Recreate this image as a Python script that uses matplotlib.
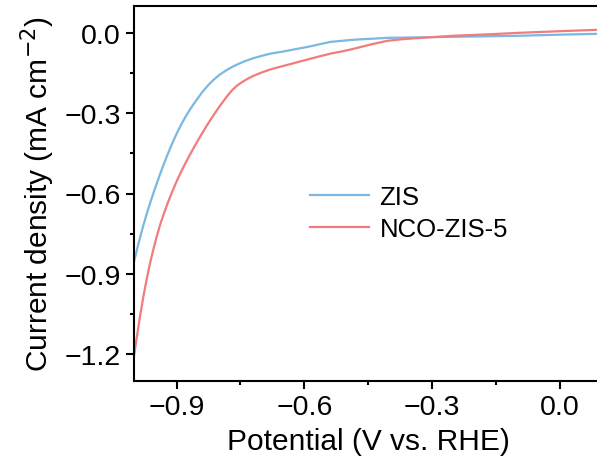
import matplotlib
matplotlib.use("Agg")
import matplotlib.pyplot as plt
from matplotlib.ticker import MultipleLocator

plt.rcParams['font.family'] = ['Liberation Sans', 'DejaVu Sans']

zis_x = [-1.0, -0.99, -0.98, -0.97, -0.96, -0.95, -0.94, -0.93, -0.92, -0.91,
         -0.90, -0.89, -0.88, -0.87, -0.86, -0.85, -0.84, -0.83, -0.82, -0.81,
         -0.80, -0.79, -0.78, -0.77, -0.76, -0.75, -0.74, -0.72, -0.70, -0.68,
         -0.65, -0.617, -0.59, -0.562, -0.539, -0.485, -0.405, -0.330,
         -0.249, -0.170, -0.094, 0.0, 0.087, 0.1]
zis_y = [-0.855, -0.790, -0.730, -0.675, -0.625, -0.578, -0.533, -0.490, -0.450, -0.412,
         -0.377, -0.345, -0.316, -0.290, -0.266, -0.244, -0.222, -0.203, -0.186, -0.171,
         -0.158, -0.147, -0.137, -0.128, -0.120, -0.113, -0.106, -0.095, -0.086, -0.078,
         -0.070, -0.060, -0.052, -0.042, -0.034, -0.026, -0.019, -0.017,
         -0.015, -0.013, -0.011, -0.007, -0.004, -0.004]

nco_x = [-1.0, -0.993, -0.986, -0.978, -0.970, -0.962, -0.954, -0.946, -0.938, -0.930,
         -0.920, -0.910, -0.900, -0.890, -0.880, -0.870, -0.860, -0.850, -0.840, -0.830,
         -0.820, -0.810, -0.800, -0.790, -0.780, -0.770, -0.760, -0.750, -0.740, -0.730,
         -0.720, -0.700, -0.680, -0.660, -0.633, -0.610, -0.586, -0.562, -0.539, -0.510,
         -0.485, -0.445, -0.405, -0.370, -0.327, -0.249, -0.170, -0.094, 0.0, 0.087, 0.1]
nco_y = [-1.207, -1.132, -1.060, -0.985, -0.918, -0.858, -0.805, -0.757, -0.713, -0.676,
         -0.632, -0.592, -0.555, -0.521, -0.489, -0.459, -0.430, -0.402, -0.375, -0.349,
         -0.324, -0.300, -0.277, -0.255, -0.234, -0.215, -0.200, -0.188, -0.178, -0.169,
         -0.161, -0.148, -0.137, -0.128, -0.117, -0.107, -0.097, -0.087, -0.078, -0.069,
         -0.060, -0.044, -0.030, -0.024, -0.019, -0.011, -0.006, 0.0, 0.006, 0.011, 0.012]

fig = plt.figure(figsize=(5.97, 4.77), dpi=100)
ax = fig.add_axes([134/597, 1-382/477, (602.5-134)/597, (382-7)/477])

ax.plot(zis_x, zis_y, color='#7AB8E2', lw=1.6, label='ZIS')
ax.plot(nco_x, nco_y, color='#F27B7B', lw=1.6, label='NCO-ZIS-5')

ax.set_xlim(-1.0, 0.1)
ax.set_ylim(-1.3, 0.1)
ax.xaxis.set_minor_locator(MultipleLocator(0.15))
ax.yaxis.set_minor_locator(MultipleLocator(0.15))
ax.set_xticks([-0.9, -0.6, -0.3, 0.0])
ax.set_xticklabels(['\u22120.9', '\u22120.6', '\u22120.3', '0.0'])
ax.set_yticks([0.0, -0.3, -0.6, -0.9, -1.2])
ax.set_yticklabels(['0.0', '\u22120.3', '\u22120.6', '\u22120.9', '\u22121.2'])

for s in ax.spines.values():
    s.set_linewidth(1.5)
ax.tick_params(which='major', direction='out', length=5.5, width=1.5, labelsize=20.5, pad=4)
ax.tick_params(which='minor', direction='out', length=3, width=1.5)

ax.set_xlabel('Potential (V vs. RHE)', fontsize=21.5, labelpad=5)
ax.set_ylabel('Current density (mA cm$^{-2}$)', fontsize=21.5, labelpad=5)

ax.legend(loc='center left', bbox_to_anchor=((310-134)/468.5, (382-214)/375),
          frameon=False, fontsize=18.5, handlelength=2.3, borderpad=0, borderaxespad=0,
          labelspacing=0.3, handletextpad=0.4)

fig.savefig('out.png', dpi=100)
